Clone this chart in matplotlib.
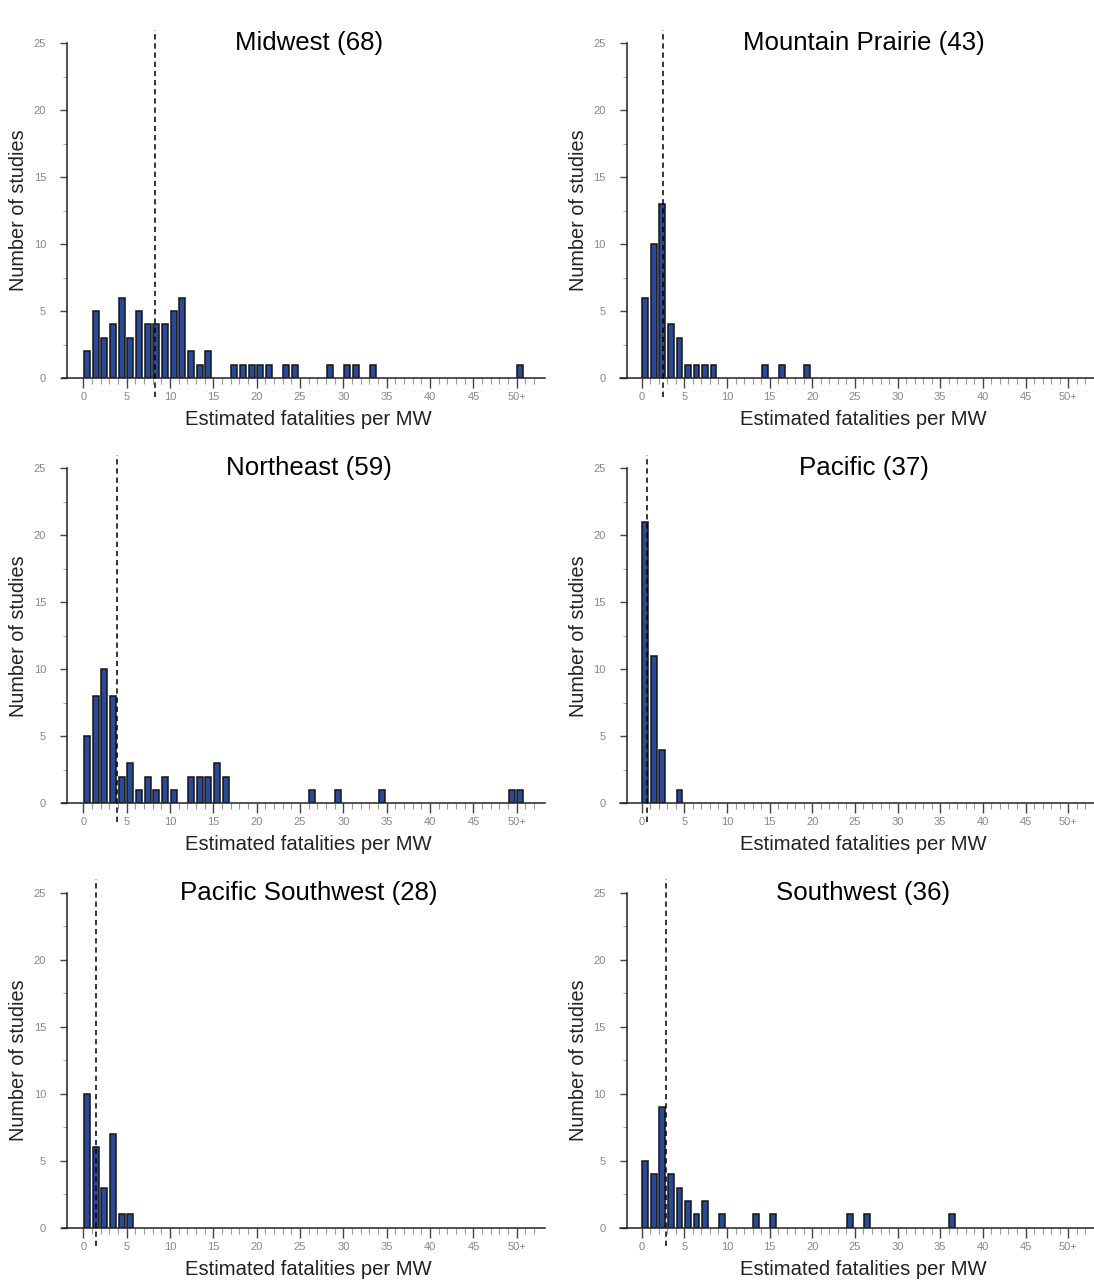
import numpy as np
import matplotlib
matplotlib.use('Agg')
import matplotlib.pyplot as plt

plt.rcParams['font.family'] = ['Liberation Sans', 'DejaVu Sans']

regions = ['Midwest', 'Mountain Prairie', 'Northeast', 'Pacific',
           'Pacific Southwest', 'Southwest']
n_studies = [68, 43, 59, 37, 28, 36]
medians = [8.3, 2.5, 3.9, 0.6, 1.5, 2.9]

# histogram bins (lower edge, fatalities per MW; 50 = "50+") and counts
midwest_bins = [0, 1, 2, 3, 4, 5, 6, 7, 8, 9, 10, 11, 12, 13, 14,
                17, 18, 19, 20, 21, 23, 24, 28, 30, 31, 33, 50]
midwest_counts = [2, 5, 3, 4, 6, 3, 5, 4, 4, 4, 5, 6, 2, 1, 2,
                  1, 1, 1, 1, 1, 1, 1, 1, 1, 1, 1, 1]

mountain_bins = [0, 1, 2, 3, 4, 5, 6, 7, 8, 14, 16, 19]
mountain_counts = [6, 10, 13, 4, 3, 1, 1, 1, 1, 1, 1, 1]

northeast_bins = [0, 1, 2, 3, 4, 5, 6, 7, 8, 9, 10, 12, 13, 14, 15, 16,
                  26, 29, 34, 49, 50]
northeast_counts = [5, 8, 10, 8, 2, 3, 1, 2, 1, 2, 1, 2, 2, 2, 3, 2,
                    1, 1, 1, 1, 1]

pacific_bins = [0, 1, 2, 4]
pacific_counts = [21, 11, 4, 1]

pac_sw_bins = [0, 1, 2, 3, 4, 5]
pac_sw_counts = [10, 6, 3, 7, 1, 1]

southwest_bins = [0, 1, 2, 3, 4, 5, 6, 7, 9, 13, 15, 24, 26, 36]
southwest_counts = [5, 4, 9, 4, 3, 2, 1, 2, 1, 1, 1, 1, 1, 1]

all_bins = [midwest_bins, mountain_bins, northeast_bins, pacific_bins,
            pac_sw_bins, southwest_bins]
all_counts = [midwest_counts, mountain_counts, northeast_counts,
              pacific_counts, pac_sw_counts, southwest_counts]

xtick_vals = list(range(0, 51, 5))
xtick_labels = [str(v) for v in xtick_vals[:-1]] + ['50+']
ytick_vals = [0, 5, 10, 15, 20, 25]

W, H = 1094, 1280
fig = plt.figure(figsize=(W / 100, H / 100), dpi=100)

col_zero = [83.3, 641.7]
col_unit = [8.67, 8.53]
col_xmax = [53.2, 53.0]
col_spine = [-1.9, -1.76]
row_base = [378.0, 803.3, 1227.7]
y_unit = 13.4
ytop = 27

for i, name in enumerate(regions):
    r, c = divmod(i, 2)
    x0, x1 = -2.5, col_xmax[c]
    left = col_zero[c] + col_unit[c] * x0
    right = col_zero[c] + col_unit[c] * x1
    bottom = row_base[r]
    top = bottom - y_unit * ytop
    ax = fig.add_axes([left / W, 1 - bottom / H, (right - left) / W,
                       (bottom - top) / H])
    ax.set_xlim(x0, x1)
    ax.set_ylim(0, ytop)

    ax.bar(np.array(all_bins[i]) + 0.08, all_counts[i], width=0.68,
           align='edge', color='#2a4a98', edgecolor='#151515',
           linewidth=1.1, zorder=2)

    m = medians[i]
    ax.plot([m, m], [-1.4, 26.0], color='black', lw=1.1,
            ls=(0, (3.5, 2.5)), clip_on=False, zorder=3)

    ax.text(26, 25.0, f'{name} ({n_studies[i]})', ha='center',
            va='center', fontsize=18.6, color='black')

    for s in ['top', 'right']:
        ax.spines[s].set_visible(False)
    ax.spines['left'].set_position(('data', col_spine[c]))
    ax.spines['left'].set_bounds(0, 25)
    ax.spines['left'].set_color('#222')
    ax.spines['bottom'].set_color('#222')
    ax.spines['left'].set_linewidth(1.1)
    ax.spines['bottom'].set_linewidth(1.1)

    ax.set_xticks(xtick_vals)
    ax.set_xticklabels(xtick_labels)
    ax.set_xticks(range(0, 53), minor=True)
    ax.set_yticks(ytick_vals)
    ax.set_yticks([2.5, 7.5, 12.5, 17.5, 22.5], minor=True)

    ax.tick_params(axis='x', which='major', length=7, width=1.0,
                   color='#444', labelsize=8, labelcolor='#888', pad=3)
    ax.tick_params(axis='x', which='minor', length=4, width=0.8,
                   color='#999')
    ax.tick_params(axis='y', which='major', length=5, width=1.0,
                   color='#444', labelsize=8, labelcolor='#888', pad=10)
    ax.tick_params(axis='y', which='minor', length=3, width=0.8,
                   color='#aaa')

    ax.annotate('Estimated fatalities per MW', xy=(26, 0),
                xycoords=('data', 'axes fraction'), xytext=(0, -30),
                textcoords='offset points', ha='center', va='center',
                fontsize=14.6, color='#222')
    ax.annotate('Number of studies', xy=(col_spine[c], 12.5),
                xycoords='data', xytext=(-35, 0),
                textcoords='offset points', ha='center', va='center',
                rotation=90, fontsize=14.3, color='#222')

fig.savefig('out.png', dpi=100)
